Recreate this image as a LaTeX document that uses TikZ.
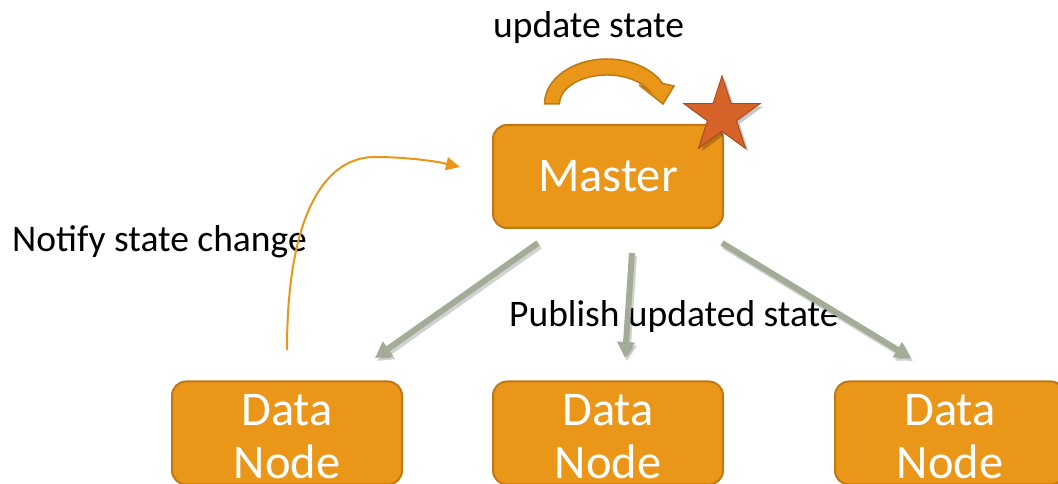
\documentclass[tikz,border=0pt]{standalone}
\usepackage{fontspec}
\setmainfont{Carlito}
\usetikzlibrary{arrows.meta,calc}
\definecolor{boxfill}{RGB}{234,150,24}
\definecolor{boxline}{RGB}{190,120,20}
\definecolor{arrgray}{RGB}{163,172,150}
\definecolor{starfill}{RGB}{214,100,42}
\definecolor{starline}{RGB}{170,75,25}
\tikzset{
  box/.style={draw=boxline, line width=2pt, fill=boxfill, rounded corners=14pt,
    minimum width=230pt, minimum height=103pt, inner sep=0pt, text=white,
    font=\fontsize{48.5}{53}\selectfont, align=center},
  boxtext/.style={inner sep=0pt, text=white, font=\fontsize{48.5}{53}\selectfont, align=center},
  lbl/.style={anchor=base west, inner sep=0pt, font=\fontsize{37.5}{44}\selectfont},
  pub/.style={line width=6pt, draw=arrgray, -{Triangle[length=16pt,width=17pt]}},
  pubshadow/.style={line width=6pt, draw=black, opacity=0.18, -{Triangle[length=16pt,width=17pt]}},
  notify/.style={line width=2pt, draw=boxfill, -{Triangle[length=14pt,width=13pt]}}
}
\begin{document}
\begin{tikzpicture}[x=1pt,y=1pt]
\useasboundingbox (0,0) rectangle (1058,484);
\begin{scope}
\clip (0,0) rectangle (1058,484);
% boxes
\node[box] (master) at (608,307.5) {\raisebox{-4pt}{Master}};
\node[box] (dn1) at (287,51) {};
\node[box] (dn2) at (608,51) {};
\node[box] (dn3) at (950,51) {};
\node[boxtext] (dt1) at ([yshift=-4pt]dn1.center) {Data\\Node};
\node[boxtext] (dt2) at ([yshift=-4pt]dn2.center) {Data\\Node};
\node[boxtext] (dt3) at ([yshift=-4pt]dn3.center) {Data\\Node};
\end{scope}
% star
\begin{scope}[shift={(722,368)}]
\fill[black,opacity=0.22,shift={(3,-3)}]
  (90:40) -- (126:15.3) -- (162:40) -- (198:15.3) -- (234:40) -- (270:15.3)
  -- (306:40) -- (342:15.3) -- (18:40) -- (54:15.3) -- cycle;
\filldraw[fill=starfill, draw=starline, line width=1pt, line join=miter]
  (90:40) -- (126:15.3) -- (162:40) -- (198:15.3) -- (234:40) -- (270:15.3)
  -- (306:40) -- (342:15.3) -- (18:40) -- (54:15.3) -- cycle;
\end{scope}
% update-state block arrow
\filldraw[fill=boxfill, draw=boxline, line width=1.5pt, line join=miter]
  (544.5,380) arc[start angle=180, end angle=27, x radius=62.5, y radius=45]
  -- (674,398) -- (663,380) -- (639,399)
  -- (649.3,393.2) arc[start angle=27, end angle=180, x radius=47.5, y radius=29]
  -- cycle;
% labels
\node[lbl] (lupd) at (493,446) {update state};
\node[lbl] (lnot) at (12,232) {Notify state change};
\node[lbl] (lpub) at (509,157) {Publish updated state};
% publish arrows
\coordinate (s1) at (538,241);
\coordinate (t1) at (375,126);
\coordinate (s2) at (632,231);
\coordinate (t2) at (625,126);
\coordinate (s3) at (722,241);
\coordinate (t3) at (911,126);
\foreach \i in {1,2,3} {
  \draw[pubshadow] ([shift={(2,-3)}]s\i) -- ([shift={(2,-3)}]t\i);
  \draw[pub] (s\i) -- (t\i);
}
% notify curve
\coordinate (n0) at (287,134);
\coordinate (n1) at (375,327);
\coordinate (n2) at (460,317);
\draw[notify] (n0) .. controls (287,270) and (325,327) .. (n1)
  .. controls (405,327) and (435,323) .. (n2);
\end{tikzpicture}
\end{document}
